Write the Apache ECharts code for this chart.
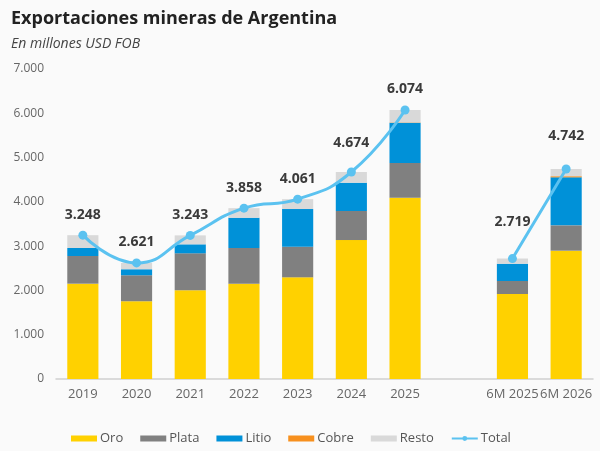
<!DOCTYPE html>
<html>
	<head>
		<meta charset="utf-8" />
		<title>Exportaciones mineras</title>
		<script type="text/javascript" src="https://cdn.jsdelivr.net/npm/echarts@6/dist/echarts.min.js"></script>
		<style>
			html, body { margin: 0; padding: 0; background: #fafafa; }
			#main { width: 600px; height: 451px; }
		</style>
	</head>
	<body>
		<div id="main"></div>
	</body>
	<script type="text/javascript">
		// categorias (la vacia deja el hueco entre anual y semestral)
		var categories = ['2019', '2020', '2021', '2022', '2023', '2024', '2025', '', '6M 2025', '6M 2026'];
		// valores por mineral, millones USD FOB
		var oro   = [2152, 1754, 2002, 2152, 2296, 3138, 4094, null, 1919, 2897];
		var plata = [625, 587, 836, 806, 691, 655, 783, null, 294, 573];
		var litio = [181, 136, 203, 684, 851, 639, 910, null, 390, 1084];
		var cobre = [0, 0, 0, 0, 0, 0, 8, null, 0, 25];
		var resto = [290, 144, 202, 216, 223, 242, 279, null, 116, 163];
		var total = [3248, 2621, 3243, 3858, 4061, 4674, 6074, null, 2719, 4742];

		var yTicks = [0, 1000, 2000, 3000, 4000, 5000, 6000, 7000];

		// desplazamiento extra de algunas etiquetas del total
		var labelShift = { 5: -8, 8: -16, 9: -12 };

		function fmt(v) {
			return String(v).replace(/\B(?=(\d{3})+(?!\d))/g, '.');
		}

		var font = 'Open Sans';
		var myChart = echarts.init(document.getElementById('main'));

		function barSerie(name, data, color) {
			return {
				name: name,
				type: 'bar',
				stack: 'total',
				data: data,
				barWidth: '58%',
				itemStyle: { color: color },
				emphasis: { disabled: true }
			};
		}

		var totalData = total.map(function(v, i) {
			if (v === null) return '-';
			var d = { value: v };
			if (labelShift[i]) {
				d.label = { offset: [0, labelShift[i]] };
			}
			return d;
		});

		myChart.setOption({
			backgroundColor: '#fafafa',
			animation: false,
			textStyle: { fontFamily: font },
			title: {
				text: 'Exportaciones mineras de Argentina',
				subtext: 'En millones USD FOB',
				left: 6,
				top: 5,
				itemGap: 9,
				textStyle: { fontSize: 18, fontWeight: 'bold', color: '#222', fontFamily: font },
				subtextStyle: { fontSize: 14, fontStyle: 'italic', color: '#444', fontFamily: font }
			},
			grid: {
				left: 56,
				right: 7,
				top: 69,
				bottom: 72
			},
			legend: {
				bottom: 1,
				left: 66,
				itemWidth: 26,
				itemHeight: 6,
				itemGap: 17,
				textStyle: { fontSize: 13, color: '#555', fontFamily: font, padding: [0, 0, 0, -2] },
				data: [
					{ name: 'Oro', icon: 'rect' },
					{ name: 'Plata', icon: 'rect' },
					{ name: 'Litio', icon: 'rect' },
					{ name: 'Cobre', icon: 'rect' },
					{ name: 'Resto', icon: 'rect' },
					{ name: 'Total' }
				]
			},
			xAxis: {
				type: 'category',
				data: categories,
				axisTick: { show: false },
				axisLine: { lineStyle: { color: '#d0d0d0', width: 1.5 } },
				axisLabel: { color: '#666', fontSize: 13, margin: 9, interval: 0 }
			},
			yAxis: {
				type: 'value',
				min: yTicks[0],
				max: yTicks[yTicks.length - 1],
				interval: 1000,
				splitLine: { show: false },
				axisLabel: {
					color: '#666',
					fontSize: 12,
					margin: 12,
					formatter: function(v) { return fmt(v); }
				}
			},
			series: [
				barSerie('Oro', oro, '#ffd100'),
				barSerie('Plata', plata, '#808080'),
				barSerie('Litio', litio, '#0091d8'),
				barSerie('Cobre', cobre, '#f7901e'),
				barSerie('Resto', resto, '#d9d9d9'),
				{
					name: 'Total',
					type: 'line',
					data: totalData,
					smooth: true,
					connectNulls: false,
					symbol: 'circle',
					symbolSize: 9,
					lineStyle: { color: '#5bc2f0', width: 3 },
					itemStyle: { color: '#5bc2f0' },
					label: {
						show: true,
						position: 'top',
						distance: 9,
						fontSize: 14,
						fontWeight: 'bold',
						color: '#3a3a3a',
						formatter: function(p) { return fmt(p.value); }
					},
					z: 5
				}
			]
		});
	</script>
</html>
